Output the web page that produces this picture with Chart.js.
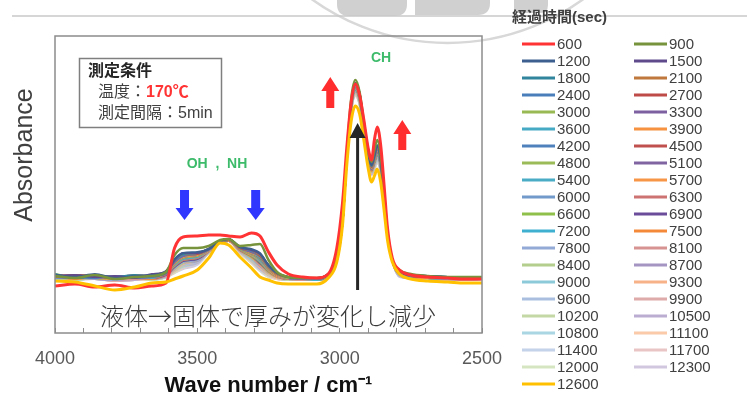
<!DOCTYPE html>
<html><head><meta charset="utf-8">
<script src="https://cdn.jsdelivr.net/npm/chart.js@4.4.1/dist/chart.umd.min.js"></script>
<style>html,body{margin:0;padding:0;background:#fff;}canvas{display:block;}</style>
</head><body>
<canvas id="c" width="747" height="396"></canvas>
<script>
// ---- data ----
const wavenumbers = [4000,3930,3860,3790,3720,3660,3610,3580,3550,3500,3460,3420,3390,3350,3310,3280,3250,3220,3180,3130,3080,3040,3010,2990,2975,2960,2945,2930,2915,2900,2888,2878,2868,2856,2844,2832,2815,2790,2750,2690,2620,2560,2500];
const times = [600,900,1200,1500,1800,2100,2400,2700,3000,3300,3600,3900,4200,4500,4800,5100,5400,5700,6000,6300,6600,6900,7200,7500,7800,8100,8400,8700,9000,9300,9600,9900,10200,10500,10800,11100,11400,11700,12000,12300,12600];
const xTickLabels = [4000,3500,3000,2500];
const lineColors = ['#ff3333','#77933c','#3d5f8f','#5f4a8b','#31859c','#c0783c','#4a7ebb','#be4b48','#98b954','#7d60a0','#46aac5','#f69240','#4f81bd','#c0504d','#9bbb59','#8064a2','#4bacc6','#f79646','#729aca','#cd7371','#8fc04a','#6b4c9a','#3fb0d0','#f5893a','#93a9d6','#d69391','#b3ce8d','#a595c3','#8ccad9','#f8b287','#aabfe0','#deabaa','#c4d8a5','#bbadd2','#aad6e3','#facaa9','#c4d2ea','#e9c6c5','#d6e5c1','#d1c8e0','#ffc000'];

const s600 = [47,49,46,48,45,47,50,85,96,97,98,98,97,96,100,97,81,68,59,56,55,59,85,130,185,230,249,238,213,185,173,193,206,188,148,105,75,63,58,56,55,54,54];
const s900 = [57,55,58,54,56,57,61,78,85,85,87,93,94,87,88,89,73,61,56,55,55,59,75,113,178,233,253,241,211,183,171,183,193,178,141,101,73,63,59,57,56,56,56];
const s1200 = [58,56,59,55,57,58,62,74,80,81,84,92,94,86,84,80,68,60,56,55,55,59,74,112,176,230,250,240,210,180,168,178,188,174,138,100,73,62,58,57,56,55,56];
const s1500 = [57,58,56,57,55,59,61,73,80,80,84,92,94,86,83,79,68,60,56,55,55,59,74,112,176,229,250,240,210,180,168,177,187,174,138,100,73,62,58,57,56,56,55];
const s1800 = [59,55,57,56,58,57,60,73,79,80,84,92,94,86,83,79,67,60,56,55,55,59,74,112,176,229,249,239,209,180,167,177,187,173,138,100,73,61,58,57,56,55,56];
const s2100 = [56,57,58,54,56,58,62,73,79,80,84,92,93,86,83,78,67,59,56,55,55,59,74,112,176,229,249,239,209,180,167,177,186,173,137,100,73,61,58,57,56,55,55];
const s2400 = [58,56,55,57,57,56,61,72,78,80,84,92,93,86,82,78,67,59,56,55,54,59,74,112,175,228,249,239,209,179,167,176,186,173,137,100,73,61,57,57,56,55,56];
const s2700 = [57,58,57,55,58,57,60,72,78,79,84,92,93,85,82,77,66,59,56,55,54,59,74,112,175,228,248,238,209,179,166,176,185,172,137,100,73,61,57,56,56,55,55];
const s3000 = [59,56,58,56,56,58,61,72,78,79,84,92,93,85,82,77,66,59,55,55,54,58,74,111,175,228,248,238,208,179,166,176,185,172,137,99,73,61,57,56,55,55,56];
const s3300 = [56,57,56,55,57,57,60,71,77,79,83,92,93,85,81,77,66,59,55,54,54,58,74,111,175,228,248,238,208,179,166,175,184,172,137,99,73,61,57,56,55,55,55];
const s3600 = [58,55,57,56,56,58,61,71,77,79,83,92,93,85,81,76,66,59,55,54,54,58,74,111,175,227,247,238,208,179,166,175,184,171,136,99,73,61,57,56,55,54,55];
const s3900 = [57,56,58,54,57,56,60,70,76,78,83,92,93,85,80,76,65,58,55,54,54,58,74,111,175,227,247,237,208,178,165,174,183,171,136,99,73,60,57,56,55,55,55];
const s4200 = [56,58,56,56,55,57,61,70,76,78,83,92,93,85,80,75,65,58,55,54,54,58,74,111,175,227,247,237,207,178,165,174,183,170,136,99,73,60,57,56,55,54,55];
const s4500 = [58,55,57,55,57,56,60,70,76,78,83,91,93,85,80,75,65,58,55,54,54,58,74,111,175,226,246,237,207,178,165,174,182,170,136,99,73,60,57,56,55,55,54];
const s4800 = [57,57,56,56,56,57,60,69,75,77,83,91,93,84,79,74,64,58,55,54,54,58,73,111,175,226,246,236,207,178,165,173,182,170,135,99,73,60,57,56,55,54,55];
const s5100 = [56,56,58,55,55,56,59,69,75,77,83,91,93,84,79,74,64,58,55,54,54,58,73,111,174,226,246,236,207,177,164,173,181,169,135,99,73,60,57,56,55,54,54];
const s5400 = [58,55,56,56,57,55,60,68,74,76,83,91,93,84,79,73,64,58,55,54,54,58,73,111,174,226,245,236,206,177,164,173,181,169,135,99,72,60,56,56,55,55,55];
const s5700 = [57,57,55,54,56,57,59,68,74,76,82,91,93,84,78,73,63,57,55,54,54,58,73,111,174,225,245,235,206,177,164,172,181,169,135,99,72,60,56,55,55,54,54];
const s6000 = [55,56,57,55,55,56,60,68,74,76,82,91,93,84,78,72,63,57,55,54,54,58,73,111,174,225,245,235,206,177,164,172,180,168,135,99,72,60,56,55,54,54,55];
const s6300 = [57,55,56,56,56,55,59,67,73,75,82,91,93,83,78,72,63,57,54,54,54,58,73,111,174,225,244,235,205,176,163,172,180,168,134,99,72,59,56,55,55,54,54];
const s6600 = [56,57,55,54,57,56,59,67,73,75,82,91,93,83,77,71,62,57,54,54,54,58,73,111,174,225,244,234,205,176,163,171,179,168,134,99,72,59,56,55,54,54,55];
const s6900 = [55,55,57,55,55,55,58,66,72,74,82,91,93,83,77,70,62,57,54,54,54,58,73,111,174,225,244,234,205,176,163,171,179,167,134,99,72,59,56,55,54,54,54];
const s7200 = [57,56,55,54,56,56,59,66,72,74,82,91,93,83,77,70,62,57,54,54,53,58,73,111,174,224,243,234,205,176,163,171,178,167,134,99,72,59,56,55,54,54,55];
const s7500 = [56,54,56,55,55,54,58,66,72,74,82,91,92,83,76,69,61,56,54,54,53,58,73,111,174,224,243,233,204,175,162,170,178,167,134,98,72,59,56,55,54,54,54];
const s7800 = [55,56,55,53,56,55,58,65,71,73,82,91,92,83,76,69,61,56,54,54,53,58,73,111,173,224,242,233,204,175,162,170,177,166,133,98,72,59,56,55,54,54,54];
const s8100 = [56,55,56,54,54,56,57,65,71,73,81,91,92,82,76,68,61,56,54,53,53,57,73,111,173,224,242,233,204,175,162,169,177,166,133,98,72,59,56,55,54,53,54];
const s8400 = [55,54,55,54,55,55,58,64,70,73,81,91,92,82,75,68,60,56,54,53,53,57,73,110,173,223,242,232,203,175,161,169,176,165,133,98,72,59,55,55,54,54,54];
const s8700 = [56,55,54,53,54,54,57,64,70,72,81,91,92,82,75,67,60,56,54,53,53,57,73,110,173,223,241,232,203,174,161,169,176,165,133,98,72,58,55,55,54,53,54];
const s9000 = [54,55,56,54,55,55,57,64,70,72,81,91,92,82,74,67,60,56,54,53,53,57,73,110,173,223,241,232,203,174,161,168,175,165,133,98,72,58,55,55,54,54,54];
const s9300 = [55,54,55,53,54,54,57,63,69,72,81,91,92,82,74,66,59,55,54,53,53,57,73,110,173,222,240,231,202,174,160,168,175,164,132,98,72,58,55,55,54,53,54];
const s9600 = [55,55,54,53,55,55,56,63,68,71,81,91,92,82,73,66,59,55,54,53,53,57,73,110,173,222,240,231,202,174,160,167,174,163,132,98,72,58,55,54,54,54,54];
const s9900 = [54,54,56,52,54,54,57,63,68,71,81,91,92,81,73,65,59,55,54,53,53,57,72,110,173,222,240,230,202,173,160,167,174,163,132,98,72,58,55,54,53,54,54];
const s10200 = [55,53,55,53,55,53,56,62,67,71,81,91,92,81,72,65,58,55,53,53,53,57,72,110,172,222,239,230,201,173,160,167,173,163,132,98,72,58,55,54,54,53,54];
const s10500 = [54,54,54,52,53,55,57,62,67,70,81,91,92,81,72,64,58,55,53,53,53,57,72,110,172,221,239,230,201,173,159,166,173,162,131,98,72,57,55,54,53,54,54];
const s10800 = [55,53,55,53,54,54,56,62,66,70,80,91,92,81,72,64,58,55,53,53,53,57,72,110,172,221,239,229,201,173,159,166,172,162,131,98,72,57,55,54,54,53,54];
const s11100 = [54,54,54,52,53,54,56,61,66,70,80,91,92,81,71,64,57,54,53,53,53,57,72,110,172,221,238,229,201,173,159,166,172,162,131,98,72,57,55,54,53,54,54];
const s11400 = [53,53,55,52,54,53,56,61,66,69,80,91,92,80,71,63,57,54,53,53,53,57,72,110,172,221,238,229,200,172,159,165,171,161,131,98,72,57,55,54,54,53,54];
const s11700 = [54,54,54,53,53,54,55,61,65,69,80,91,92,80,71,63,57,54,53,53,53,57,72,110,172,220,238,229,200,172,158,165,171,161,130,98,72,57,55,54,53,54,54];
const s12000 = [53,53,55,52,54,53,56,60,65,69,80,91,92,80,70,62,56,54,53,53,53,57,72,110,172,220,237,228,200,172,158,164,170,160,130,98,72,57,56,54,54,53,54];
const s12300 = [54,53,54,52,53,54,56,60,64,68,80,91,92,80,70,62,56,54,53,53,53,57,72,110,172,220,237,228,200,172,158,164,170,160,130,98,72,56,55,54,53,54,54];
const s12600 = [52,51,47,43,46,50,51,54,57,63,75,90,88,76,65,56,53,50,49,49,49,55,71,108,168,211,227,219,193,165,151,157,164,151,123,93,71,59,54,52,51,50,50];

const seriesValues = [s600,s900,s1200,s1500,s1800,s2100,s2400,s2700,s3000,s3300,s3600,s3900,s4200,s4500,s4800,s5100,s5400,s5700,s6000,s6300,s6600,s6900,s7200,s7500,s7800,s8100,s8400,s8700,s9000,s9300,s9600,s9900,s10200,s10500,s10800,s11100,s11400,s11700,s12000,s12300,s12600];

// ---- datasets ----
const datasets = times.map((t, i) => ({
  label: String(t),
  data: wavenumbers.map((w, j) => ({x: w, y: seriesValues[i][j]})),
  borderColor: lineColors[i],
  backgroundColor: lineColors[i],
  borderWidth: (t === 600 || t === 12600) ? 3 : (t === 900 ? 2.5 : 2),
  pointRadius: 0,
  cubicInterpolationMode: 'monotone',
  fill: false,
  order: t === 12600 ? -2 : (t === 600 ? -1 : 0)
}));

const SANS = '"Liberation Sans", Arial, "Noto Sans CJK JP", sans-serif';
const CJK = '"Liberation Sans", "Noto Sans CJK JP", sans-serif';

function blockArrow(ctx, x, yTail, yTip, shaftW, headW, headL, color) {
  const dir = yTip < yTail ? -1 : 1;
  const yBase = yTip - dir * headL;
  ctx.fillStyle = color;
  ctx.beginPath();
  ctx.moveTo(x - shaftW / 2, yTail);
  ctx.lineTo(x - shaftW / 2, yBase);
  ctx.lineTo(x - headW / 2, yBase);
  ctx.lineTo(x, yTip);
  ctx.lineTo(x + headW / 2, yBase);
  ctx.lineTo(x + shaftW / 2, yBase);
  ctx.lineTo(x + shaftW / 2, yTail);
  ctx.closePath();
  ctx.fill();
}
function roundBottom(ctx, x, y, w, h, rl, rr) {
  ctx.beginPath();
  ctx.moveTo(x, y);
  ctx.lineTo(x + w, y);
  ctx.lineTo(x + w, y + h - rr);
  ctx.quadraticCurveTo(x + w, y + h, x + w - rr, y + h);
  ctx.lineTo(x + rl, y + h);
  ctx.quadraticCurveTo(x, y + h, x, y + h - rl);
  ctx.closePath();
  ctx.fill();
}

const decor = {
  id: 'decor',
  beforeDraw(chart) {
    const ctx = chart.ctx;
    ctx.save();
    ctx.fillStyle = '#ffffff';
    ctx.fillRect(0, 0, chart.width, chart.height);
    ctx.fillStyle = '#d0d0d0';
    roundBottom(ctx, 337, -2, 70, 18, 12, 12);
    roundBottom(ctx, 415, -2, 75, 17, 0, 12);
    roundBottom(ctx, 514, -2, 34, 15, 0, 8);
    ctx.strokeStyle = '#d8d8d8';
    ctx.lineWidth = 2.5;
    ctx.beginPath();
    ctx.arc(447.5, -189, 232, 0, Math.PI);
    ctx.stroke();
    ctx.strokeStyle = '#c8c8c8';
    ctx.lineWidth = 1.5;
    ctx.beginPath();
    ctx.moveTo(12, 16); ctx.lineTo(747, 16);
    ctx.stroke();
    ctx.restore();
  },
  afterDatasetsDraw(chart) {
    const ctx = chart.ctx;
    const a = chart.chartArea;
    const xs = chart.scales.x, ys = chart.scales.y;
    ctx.save();
    // plot frame
    ctx.strokeStyle = '#8c8c8c';
    ctx.lineWidth = 1.5;
    ctx.strokeRect(a.left, a.top, a.right - a.left, a.bottom - a.top);

    // conditions box
    ctx.fillStyle = '#ffffff';
    ctx.fillRect(79, 58, 143, 70);
    ctx.strokeStyle = '#7f7f7f';
    ctx.lineWidth = 1.5;
    ctx.strokeRect(79.5, 58.5, 142, 69);
    ctx.textBaseline = 'middle';
    ctx.textAlign = 'left';
    ctx.fillStyle = '#262626';
    ctx.font = 'bold 16px ' + CJK;
    ctx.fillText('測定条件', 88, 72);
    ctx.fillStyle = '#404040';
    ctx.font = '16px ' + CJK;
    ctx.fillText('温度：', 98, 93);
    const w1 = ctx.measureText('温度：').width;
    ctx.fillText('測定間隔：5min', 98, 114);
    ctx.fillStyle = '#ff3333';
    ctx.font = 'bold 16px ' + CJK;
    ctx.fillText('170℃', 98 + w1, 93);

    // band labels
    ctx.fillStyle = '#3dbb6b';
    ctx.font = 'bold 14px ' + SANS;
    ctx.textAlign = 'center';
    ctx.fillText('OH  ,  NH', 217, 164);
    ctx.fillText('CH', 381, 58);

    // arrows (positioned on the scales)
    const X = v => xs.getPixelForValue(v), Y = v => ys.getPixelForValue(v);
    blockArrow(ctx, X(3545), Y(143), Y(113), 9, 18, 12, '#2f37ff');
    blockArrow(ctx, X(3295), Y(143), Y(113), 9, 18, 12, '#2f37ff');
    blockArrow(ctx, X(3033), Y(225), Y(256), 8, 18, 14, '#ff2d2d');
    blockArrow(ctx, X(2780), Y(183), Y(213), 8, 18, 14, '#ff2d2d');
    // black arrow
    const bx = X(2937);
    ctx.strokeStyle = '#262626';
    ctx.lineWidth = 3;
    ctx.beginPath();
    ctx.moveTo(bx, Y(43)); ctx.lineTo(bx, Y(198));
    ctx.stroke();
    ctx.fillStyle = '#262626';
    ctx.beginPath();
    ctx.moveTo(bx - 8, Y(195)); ctx.lineTo(bx, Y(210)); ctx.lineTo(bx + 8, Y(195));
    ctx.closePath(); ctx.fill();

    // note text
    ctx.fillStyle = '#3a3a3a';
    ctx.font = '300 24px "Noto Sans CJK JP", sans-serif';
    ctx.textAlign = 'center';
    ctx.fillText('液体→固体で厚みが変化し減少', 268, 316);
    ctx.restore();
  },
  afterDraw(chart) {
    const ctx = chart.ctx;
    ctx.save();
    // y axis title
    ctx.translate(32, 155);
    ctx.rotate(-Math.PI / 2);
    ctx.fillStyle = '#404040';
    ctx.font = '25px ' + SANS;
    ctx.textAlign = 'center';
    ctx.textBaseline = 'alphabetic';
    ctx.fillText('Absorbance', 0, 0);
    ctx.restore();

    // legend
    ctx.save();
    ctx.textBaseline = 'middle';
    ctx.textAlign = 'left';
    ctx.fillStyle = '#404040';
    ctx.font = 'bold 15px ' + CJK;
    ctx.fillText('経過時間(sec)', 512, 18);
    ctx.font = '15px ' + SANS;
    chart.data.datasets.forEach((ds, i) => {
      const col = i % 2, row = Math.floor(i / 2);
      const x0 = col ? 634 : 522;
      const y = 44 + 17 * row;
      ctx.strokeStyle = ds.borderColor;
      ctx.lineWidth = 3;
      ctx.beginPath();
      ctx.moveTo(x0, y); ctx.lineTo(x0 + 33, y);
      ctx.stroke();
      ctx.fillStyle = '#404040';
      ctx.fillText(ds.label, x0 + 35, y + 1);
    });
    ctx.restore();
  }
};

new Chart(document.getElementById('c'), {
  type: 'line',
  data: { datasets },
  options: {
    responsive: false,
    animation: false,
    devicePixelRatio: 1,
    layout: { padding: { left: 55, right: 265, top: 36, bottom: 0 } },
    plugins: { legend: { display: false }, tooltip: { enabled: false } },
    scales: {
      x: {
        type: 'linear',
        reverse: true,
        min: 2500,
        max: 4000,
        afterFit: s => { s.height = 63; },
        border: { display: false },
        grid: { drawOnChartArea: false, drawTicks: true, tickLength: -5, color: '#8c8c8c', lineWidth: 1 },
        ticks: {
          stepSize: 100,
          autoSkip: false,
          maxRotation: 0,
          padding: 20,
          color: '#595959',
          font: { size: 18, family: SANS },
          callback: v => xTickLabels.includes(v) ? String(v) : ''
        },
        title: {
          display: true,
          text: 'Wave number / cm⁻¹',
          color: '#111111',
          font: { size: 22, weight: 'bold', family: SANS, lineHeight: 0.9 },
          padding: { top: 0, bottom: 0 }
        }
      },
      y: { display: false, min: 0, max: 297 }
    }
  },
  plugins: [decor]
});
</script>
</body></html>
